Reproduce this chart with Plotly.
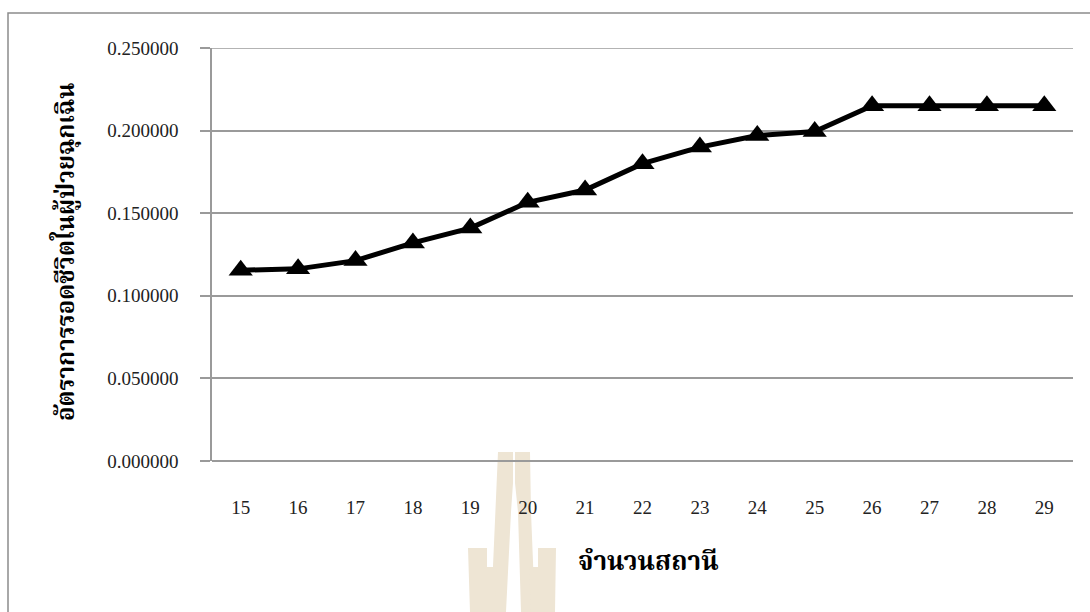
import plotly.graph_objects as go

# Number of stations vs. survival rate of emergency patients
stations = [15, 16, 17, 18, 19, 20, 21, 22, 23, 24, 25, 26, 27, 28, 29]
survival_rate = [0.1155, 0.1163, 0.1213, 0.1320, 0.1410, 0.1566, 0.1640,
                 0.1800, 0.1900, 0.1970, 0.1995, 0.2150, 0.2150, 0.2150, 0.2150]
y_ticks = [0.0, 0.05, 0.10, 0.15, 0.20, 0.25]

x_title = "จำนวนสถานี"
y_title = "อัตราการรอดชีวิตในผู้ป่วยฉุกเฉิน"

W, H = 1090, 612
ML, MR, MT, MB = 212, 17, 48, 151
PW, PH = W - ML - MR, H - MT - MB

def px(x):
    return (x - ML) / PW

def py(y):
    return 1 - (y - MT) / PH

GRID = "#9a9a9a"
SERIF = "Liberation Serif, Times New Roman, serif"
THAI = "Liberation Serif, Noto Serif Thai, Noto Sans Thai, Loma, serif"

fig = go.Figure()
fig.add_trace(go.Scatter(
    x=[str(s) for s in stations],
    y=survival_rate,
    mode="lines+markers",
    line=dict(color="black", width=5),
    marker=dict(symbol="triangle-up", size=21, color="black"),
    showlegend=False,
    cliponaxis=False,
))

shapes = []
# outer frame of the chart
shapes.append(dict(type="rect", xref="paper", yref="paper",
                   x0=px(8), x1=px(1095), y0=py(620), y1=py(13),
                   line=dict(color="#8c8c8c", width=1.5), layer="below"))
# gridline at the top of the value range
shapes.append(dict(type="line", xref="paper", yref="y",
                   x0=0, x1=1, y0=y_ticks[-1], y1=y_ticks[-1],
                   line=dict(color=GRID, width=1.5), layer="below"))

# faint seal printed behind the page
seal = "#eee5d4"
seal_polys = [
    [(498, 452), (513, 452), (513, 483), (511, 512), (506, 612), (491, 612)],
    [(515, 452), (530, 452), (531, 512), (535, 612), (521, 612), (518, 512), (515, 483)],
    [(468, 548), (487, 548), (487, 567), (497, 567), (495, 612), (470, 612)],
    [(538, 548), (556, 548), (555, 612), (531, 612), (529, 567), (538, 567)],
]
for poly in seal_polys:
    path = "M " + " L ".join(f"{px(x):.5f},{py(y):.5f}" for x, y in poly) + " Z"
    shapes.append(dict(type="path", xref="paper", yref="paper", path=path,
                       fillcolor=seal, line=dict(width=0), layer="below"))

annotations = [
    dict(text=f"<b>{x_title}</b>", xref="paper", yref="paper",
         x=px(648), y=py(578), showarrow=False,
         font=dict(family=THAI, size=26, color="black")),
    dict(text=f"<b>{y_title}</b>", xref="paper", yref="paper",
         x=px(47), y=py(252), showarrow=False, textangle=-90,
         font=dict(family=THAI, size=24, color="black")),
]

fig.update_layout(
    width=W, height=H,
    margin=dict(l=ML, r=MR, t=MT, b=MB),
    paper_bgcolor="white", plot_bgcolor="white",
    shapes=shapes, annotations=annotations,
    xaxis=dict(
        type="category",
        range=[-0.5, len(stations) - 0.5],
        showgrid=False, zeroline=False,
        showline=False, ticks="",
        tickfont=dict(family=SERIF, size=19, color="#222"),
        ticklabelstandoff=33,
    ),
    yaxis=dict(
        range=[0, 0.25],
        tickvals=y_ticks,
        tickformat=".6f",
        showgrid=True, gridcolor=GRID, gridwidth=1.5,
        zeroline=True, zerolinecolor=GRID, zerolinewidth=2,
        showline=True, linecolor=GRID, linewidth=1.5,
        ticks="outside", ticklen=10, tickcolor=GRID, tickwidth=1.5,
        tickfont=dict(family=SERIF, size=19, color="#222"),
        ticklabelstandoff=18,
    ),
)

fig.write_html("out.html")
